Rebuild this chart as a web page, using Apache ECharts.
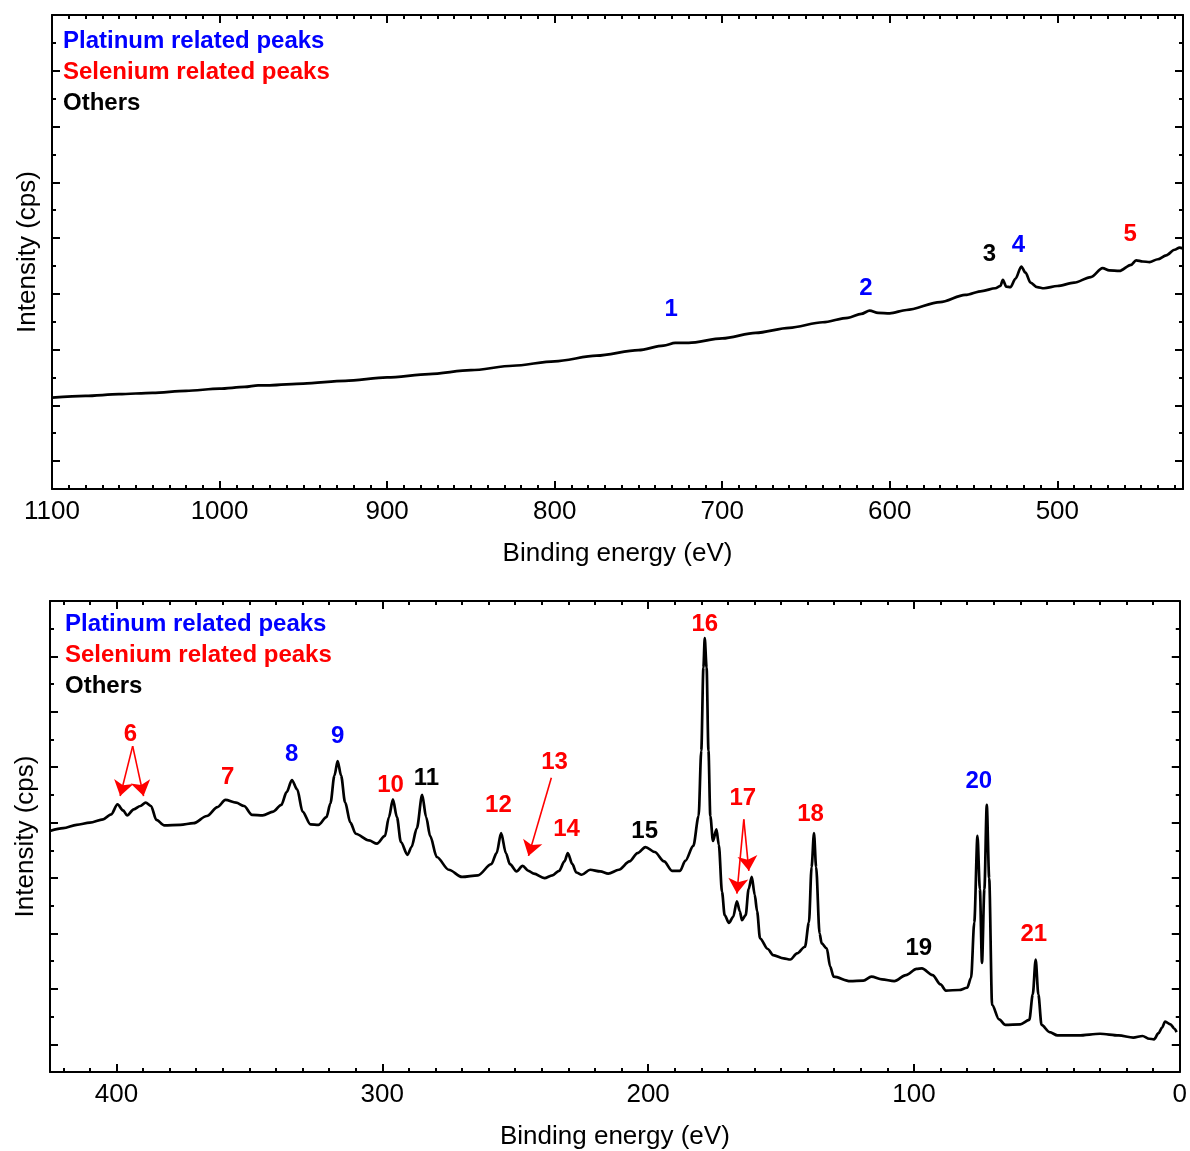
<!DOCTYPE html>
<html>
<head>
<meta charset="utf-8">
<script src="https://cdn.jsdelivr.net/npm/echarts@6/dist/echarts.min.js"></script>
<style>
  html, body { margin: 0; padding: 0; background: #fff; }
  #container { width: 1190px; height: 1151px; }
</style>
</head>
<body>
<div id="container"></div>
<script>
var FONT = '"Liberation Sans", Arial, Helvetica, sans-serif';

// survey spectrum, 1100 - 425 eV  [binding energy, intensity (arb.)]
var spectrumHigh = [
  [1100, 1.14], [1080, 1.17], [1060, 1.2], [1040, 1.225], [1020, 1.26], [1000, 1.3],
  [985, 1.33], [977, 1.36], [970, 1.36], [950, 1.39], [925, 1.44], [900, 1.5],
  [875, 1.56], [850, 1.63], [825, 1.71], [800, 1.79], [775, 1.89], [750, 1.99],
  [735, 2.07], [728, 2.12], [720, 2.12], [700, 2.2], [680, 2.3], [660, 2.39],
  [640, 2.49], [625, 2.57], [617, 2.64], [612, 2.7], [607, 2.66], [600, 2.65],
  [590, 2.71], [570, 2.85], [555, 2.98], [545, 3.05], [537, 3.1], [534, 3.14],
  [532.5, 3.25], [530.5, 3.13], [528, 3.12], [525, 3.27], [521.5, 3.49], [519, 3.38],
  [516, 3.2], [512, 3.12], [508, 3.1], [500, 3.14], [490, 3.2], [480, 3.3],
  [473, 3.46], [469, 3.42], [463, 3.41], [456, 3.52], [453, 3.6], [449, 3.58],
  [445, 3.57], [440, 3.62], [435, 3.69], [430, 3.79], [427, 3.83], [425, 3.81]
];

// survey spectrum, 425 - 0 eV
var spectrumLow = [
  [425, 3.85], [420, 3.9], [415, 3.96], [410, 4.0], [405, 4.06], [402, 4.15],
  [399.6, 4.33], [397.5, 4.22], [396, 4.13], [393.5, 4.24], [391, 4.3], [389, 4.36],
  [387, 4.3], [385, 4.05], [382, 3.95], [376, 3.96], [371, 3.99], [366, 4.12],
  [362, 4.28], [359, 4.41], [355, 4.36], [352, 4.3], [349, 4.14], [345, 4.13],
  [341, 4.2], [338, 4.32], [336, 4.55], [334, 4.77], [332, 4.6], [330, 4.2],
  [327, 3.97], [324, 3.96], [321, 4.1], [319.5, 4.35], [318, 4.85], [316.8, 5.11],
  [315.5, 4.85], [314, 4.37], [312, 4.0], [310, 3.8], [305, 3.68], [302, 3.62],
  [299, 3.76], [297.5, 4.1], [296, 4.42], [294.5, 4.1], [293, 3.65], [290.5, 3.42],
  [289, 3.56], [287, 3.9], [285, 4.5], [283.5, 4.1], [282, 3.76], [279.5, 3.38],
  [275, 3.15], [270, 3.02], [264, 3.05], [259, 3.25], [257, 3.45], [255.3, 3.81],
  [253.5, 3.45], [252, 3.25], [249.5, 3.12], [247.2, 3.22], [245, 3.13], [243, 3.08],
  [239, 3.0], [236, 3.05], [233.5, 3.13], [231.5, 3.3], [230.2, 3.45], [228.5, 3.25],
  [227, 3.1], [225, 3.06], [221.8, 3.15], [218, 3.12], [215, 3.08], [211, 3.15],
  [207, 3.3], [204, 3.45], [201, 3.56], [197.5, 3.47], [194, 3.3], [191, 3.13],
  [188, 3.13], [186, 3.31], [183, 3.58], [181, 4.12], [180, 5.3], [179.2, 6.8],
  [178.7, 7.33], [178, 6.8], [177.3, 5.3], [176.6, 4.12], [175.6, 3.67], [174.3, 3.88],
  [173.4, 3.6], [172.2, 2.75], [171.2, 2.33], [169.6, 2.19], [168, 2.3], [166.6, 2.58],
  [165.5, 2.4], [164.7, 2.24], [163.3, 2.33], [162.2, 2.8], [161, 3.02], [159.9, 2.7],
  [159, 2.4], [157.9, 1.91], [155, 1.72], [153, 1.61], [149, 1.55], [146.5, 1.53],
  [144, 1.64], [141, 1.76], [139.5, 2.2], [138.5, 3.2], [137.6, 3.81], [136.8, 3.2],
  [135.5, 2.0], [134.7, 1.82], [132.8, 1.73], [131.5, 1.4], [130.2, 1.22], [124, 1.14],
  [119, 1.15], [116, 1.22], [112, 1.17], [107.4, 1.14], [103, 1.25], [99, 1.36],
  [97, 1.37], [93, 1.25], [90, 1.08], [88, 0.97], [83, 0.98], [80, 1.02],
  [78.5, 1.2], [77.3, 2.2], [76.1, 3.76], [75.2, 2.8], [74.4, 1.47], [73.5, 2.8],
  [72.6, 4.32], [71.7, 3.0], [70.6, 0.71], [68, 0.45], [65.6, 0.35], [60, 0.36],
  [56.6, 0.44], [55.3, 0.9], [54.2, 1.53], [53.2, 0.9], [52, 0.35], [49, 0.22],
  [46, 0.16], [38, 0.16], [30, 0.19], [23, 0.16], [17.5, 0.12], [14, 0.15],
  [11.5, 0.1], [9.7, 0.09], [8, 0.2], [6.7, 0.3], [5.5, 0.41], [3.5, 0.36],
  [2, 0.28], [1.2, 0.22]
];

// peak numbers: [text, energy, intensity, group]
var peaksHigh = [
  ['1', 730.4, 2.73, 'Pt'], ['2', 614.3, 3.10, 'Pt'], ['3', 540.5, 3.71, 'other'],
  ['4', 523.2, 3.87, 'Pt'], ['5', 456.5, 4.07, 'Se']
];
var peaksLow = [
  ['6', 394.7, 5.59, 'Se'], ['7', 358.2, 4.82, 'Se'], ['8', 334.1, 5.23, 'Pt'],
  ['9', 316.8, 5.56, 'Pt'], ['10', 296.9, 4.68, 'Se'], ['11', 283.4, 4.80, 'other'],
  ['12', 256.3, 4.32, 'Se'], ['13', 235.2, 5.09, 'Se'], ['14', 230.7, 3.87, 'Se'],
  ['15', 201.3, 3.85, 'other'], ['16', 178.7, 7.57, 'Se'], ['17', 164.4, 4.44, 'Se'],
  ['18', 138.9, 4.15, 'Se'], ['19', 98.2, 1.73, 'other'], ['20', 75.6, 4.75, 'Pt'],
  ['21', 54.9, 1.98, 'Se']
];
// arrows: [from E, from I, to E, to I]
var arrowsLow = [
  [393.9, 5.38, 398.6, 4.48], [393.9, 5.38, 389.8, 4.48],
  [236.4, 4.81, 245.0, 3.40],
  [164.0, 4.06, 166.6, 2.72], [164.0, 4.06, 162.1, 3.13]
];

var xTicksHigh = [1100, 1000, 900, 800, 700, 600, 500];
var xTicksLow = [400, 300, 200, 100, 0];
var yTicks = [0, 1, 2, 3, 4, 5, 6, 7, 8];
var legendNames = ['Platinum related peaks', 'Selenium related peaks', 'Others'];
var groupColor = {Pt: '#0000ff', Se: '#ff0000', other: '#000000'};
var legendColor = ['#0000ff', '#ff0000', '#000000'];

function minorList(from, to, step, skip) {
  var out = [];
  for (var v = from; v <= to + 1e-9; v += step) {
    var r = Math.round(v * 100) / 100;
    if (Math.abs(r / skip - Math.round(r / skip)) > 1e-6) out.push(r);
  }
  return out;
}

function xAxes(gi, min, max, major, minor, name) {
  var base = {
    type: 'value', gridIndex: gi, min: min, max: max, inverse: true,
    splitLine: {show: false}
  };
  var line = {show: true, onZero: false, lineStyle: {color: '#000', width: 2}};
  var res = [];
  ['bottom', 'top'].forEach(function (pos) {
    res.push(Object.assign({}, base, {
      position: pos,
      name: pos === 'bottom' ? name : '',
      nameLocation: 'middle', nameGap: 52,
      nameTextStyle: {fontSize: 26, color: '#000', fontFamily: FONT},
      axisLine: line,
      axisTick: {show: true, inside: true, length: 8, customValues: major,
                 lineStyle: {color: '#000', width: 2}},
      axisLabel: {show: pos === 'bottom', customValues: major, fontSize: 26,
                  color: '#000', margin: 10, fontFamily: FONT,
                  formatter: function (v) { return String(v); }}
    }));
    res.push(Object.assign({}, base, {
      position: pos,
      axisLine: {show: false, onZero: false},
      axisTick: {show: true, inside: true, length: 4, customValues: minor,
                 lineStyle: {color: '#000', width: 2}},
      axisLabel: {show: false}
    }));
  });
  return res;
}

function yAxes(gi, minor) {
  var base = {type: 'value', gridIndex: gi, min: -0.5, max: 8, splitLine: {show: false}};
  var res = [];
  ['left', 'right'].forEach(function (pos) {
    res.push(Object.assign({}, base, {
      position: pos,
      name: pos === 'left' ? 'Intensity (cps)' : '',
      nameLocation: 'middle', nameGap: 11,
      nameTextStyle: {fontSize: 26, color: '#000', fontFamily: FONT},
      axisLine: {show: true, onZero: false, lineStyle: {color: '#000', width: 2}},
      axisTick: {show: true, inside: true, length: 8, customValues: yTicks,
                 lineStyle: {color: '#000', width: 2}},
      axisLabel: {show: false}
    }));
    res.push(Object.assign({}, base, {
      position: pos,
      axisLine: {show: false, onZero: false},
      axisTick: {show: true, inside: true, length: 4, customValues: minor,
                 lineStyle: {color: '#000', width: 2}},
      axisLabel: {show: false}
    }));
  });
  return res;
}

function peakLabels(list) {
  return list.map(function (p) {
    return {
      value: [p[1], p[2]],
      label: {show: true, formatter: p[0], color: groupColor[p[3]]}
    };
  });
}

function legendText(x, yTop) {
  return legendNames.map(function (t, i) {
    return {
      type: 'text', x: x, y: yTop + i * 31,
      style: {text: t, fill: legendColor[i], font: 'bold 24px ' + FONT, verticalAlign: 'middle'}
    };
  });
}

var yMinor = minorList(0.5, 7.5, 1, 1000);
var xMinorHigh = minorList(430, 1090, 10, 100);
var xMinorLow = minorList(10, 420, 10, 100);

var dom = document.getElementById('container');
var myChart = echarts.init(dom, null, {renderer: 'canvas'});

var labelStyle = {position: 'inside', fontSize: 24, fontWeight: 'bold', fontFamily: FONT, opacity: 1};

var option = {
  animation: false,
  backgroundColor: '#fff',
  grid: [
    {left: 52, right: 7, top: 15, height: 474},
    {left: 50, right: 7, top: 601, height: 473}
  ],
  xAxis: xAxes(0, 425, 1100, xTicksHigh, xMinorHigh, 'Binding energy (eV)')
    .concat(xAxes(1, 0, 425, xTicksLow, xMinorLow, 'Binding energy (eV)')),
  yAxis: yAxes(0, yMinor).concat(yAxes(1, yMinor)),
  graphic: legendText(63, 41).concat(legendText(65, 624)),
  series: [
    {
      type: 'line', xAxisIndex: 0, yAxisIndex: 0, data: spectrumHigh,
      showSymbol: false, smooth: 0.3, smoothMonotone: 'x',
      lineStyle: {color: '#000', width: 2.7}
    },
    {
      type: 'scatter', xAxisIndex: 0, yAxisIndex: 0, data: peakLabels(peaksHigh),
      symbolSize: 1, itemStyle: {color: 'rgba(0,0,0,0)', opacity: 1},
      label: labelStyle, silent: true
    },
    {
      type: 'line', xAxisIndex: 4, yAxisIndex: 4, data: spectrumLow,
      showSymbol: false, smooth: 0.3, smoothMonotone: 'x',
      lineStyle: {color: '#000', width: 2.7}
    },
    {
      type: 'scatter', xAxisIndex: 4, yAxisIndex: 4, data: peakLabels(peaksLow),
      symbolSize: 1, itemStyle: {color: 'rgba(0,0,0,0)', opacity: 1},
      label: labelStyle, silent: true,
      markLine: {
        silent: true, animation: false,
        symbol: ['none', 'arrow'], symbolSize: 15,
        label: {show: false},
        lineStyle: {color: '#ff0000', width: 1.6, type: 'solid', opacity: 1},
        data: arrowsLow.map(function (a) {
          return [{coord: [a[0], a[1]]}, {coord: [a[2], a[3]]}];
        })
      }
    }
  ]
};

myChart.setOption(option);
</script>
</body>
</html>
